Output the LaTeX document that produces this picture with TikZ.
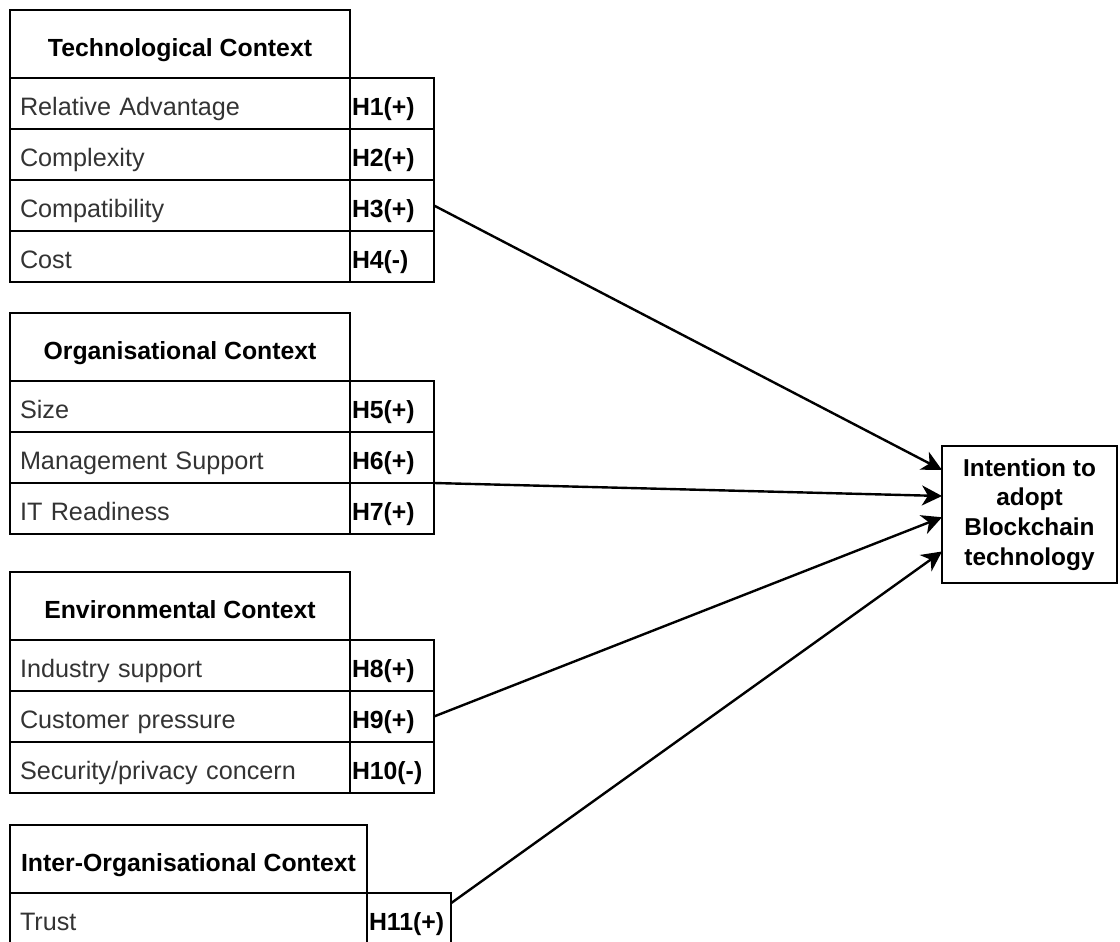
\documentclass[tikz,border=0pt]{standalone}
\usepackage{fontspec}
\setmainfont{Liberation Sans}
\usetikzlibrary{positioning}
\usetikzlibrary{calc}
\usetikzlibrary{arrows.meta}

\begin{document}
\begin{tikzpicture}[x=0.5pt, y=-0.5pt, node distance=0pt]
  \tikzstyle{head}=[rectangle, draw, line width=1.3pt, outer sep=0pt, inner sep=0pt, minimum width=170pt, minimum height=34pt, text height=12pt, text depth=0pt, font=\bfseries\fontsize{12.4}{15}\selectfont]
  \tikzstyle{item}=[rectangle, draw, line width=1.3pt, outer sep=0pt, inner xsep=5pt, inner ysep=0pt, text width=160pt, minimum height=25.5pt, text height=12pt, text depth=0pt, align=left, text=black!80, font=\fontsize{12.6}{15}\selectfont]
  \tikzstyle{hyp}=[rectangle, draw, line width=1.3pt, outer sep=0pt, inner xsep=1pt, inner ysep=0pt, text width=40pt, minimum height=25.5pt, text height=12pt, text depth=0pt, align=left, font=\bfseries\fontsize{12.4}{15}\selectfont]
  \tikzstyle{goal}=[rectangle, draw, line width=1.3pt, outer sep=0pt, inner sep=0pt, minimum width=87.5pt, minimum height=68.5pt, align=center, font=\bfseries\fontsize{12.2}{14.8}\selectfont]
  \tikzstyle{link}=[-{Stealth[length=10pt, width=10pt, inset=3pt]}, line width=1.2pt]
  \useasboundingbox (0,0) rectangle (1120,942);
  \node [head, anchor=north west] at (10,10) (tech) {Technological Context};
  \node [item] [below=of tech] (adv) {Relative Advantage};
  \node [item] [below=of adv] (cplx) {Complexity};
  \node [item] [below=of cplx] (comp) {Compatibility};
  \node [item] [below=of comp] (cost) {Cost};
  \node [hyp] [right=of adv] (h1) {H1(+)};
  \node [hyp] [right=of cplx] (h2) {H2(+)};
  \node [hyp] [right=of comp] (h3) {H3(+)};
  \node [hyp] [right=of cost] (h4) {H4(-)};
  \node [head, anchor=north west] at (10,313) (org) {Organisational Context};
  \node [item] [below=of org] (size) {Size};
  \node [item] [below=of size] (mgmt) {Management Support};
  \node [item] [below=of mgmt] (itr) {IT Readiness};
  \node [hyp] [right=of size] (h5) {H5(+)};
  \node [hyp] [right=of mgmt] (h6) {H6(+)};
  \node [hyp] [right=of itr] (h7) {H7(+)};
  \node [head, anchor=north west] at (10,572) (env) {Environmental Context};
  \node [item] [below=of env] (ind) {Industry support};
  \node [item] [below=of ind] (cust) {Customer pressure};
  \node [item] [below=of cust] (sec) {Security/privacy concern};
  \node [hyp] [right=of ind] (h8) {H8(+)};
  \node [hyp] [right=of cust] (h9) {H9(+)};
  \node [hyp] [right=of sec] (h10) {H10(-)};
  \node [head, anchor=north west, minimum width=178.5pt] at (10,825) (inter) {Inter-Organisational Context};
  \node [item, text width=168.5pt] [below=of inter] (trust) {Trust};
  \node [hyp] [right=of trust] (h11) {H11(+)};
  \node [goal, anchor=north west] at (942,446) (intent) {Intention to\\adopt\\Blockchain\\technology};
  \draw[link] (h3.east) -- ($(intent.north west)!0.175!(intent.south west)$);
  \draw[link] (h7.north east) -- ($(intent.north west)!0.365!(intent.south west)$);
  \draw[link] (h9.east) -- ($(intent.north west)!0.52!(intent.south west)$);
  \draw[link] ($(h11.north east)!0.2!(h11.south east)$) -- ($(intent.north west)!0.77!(intent.south west)$);
\end{tikzpicture}
\end{document}
